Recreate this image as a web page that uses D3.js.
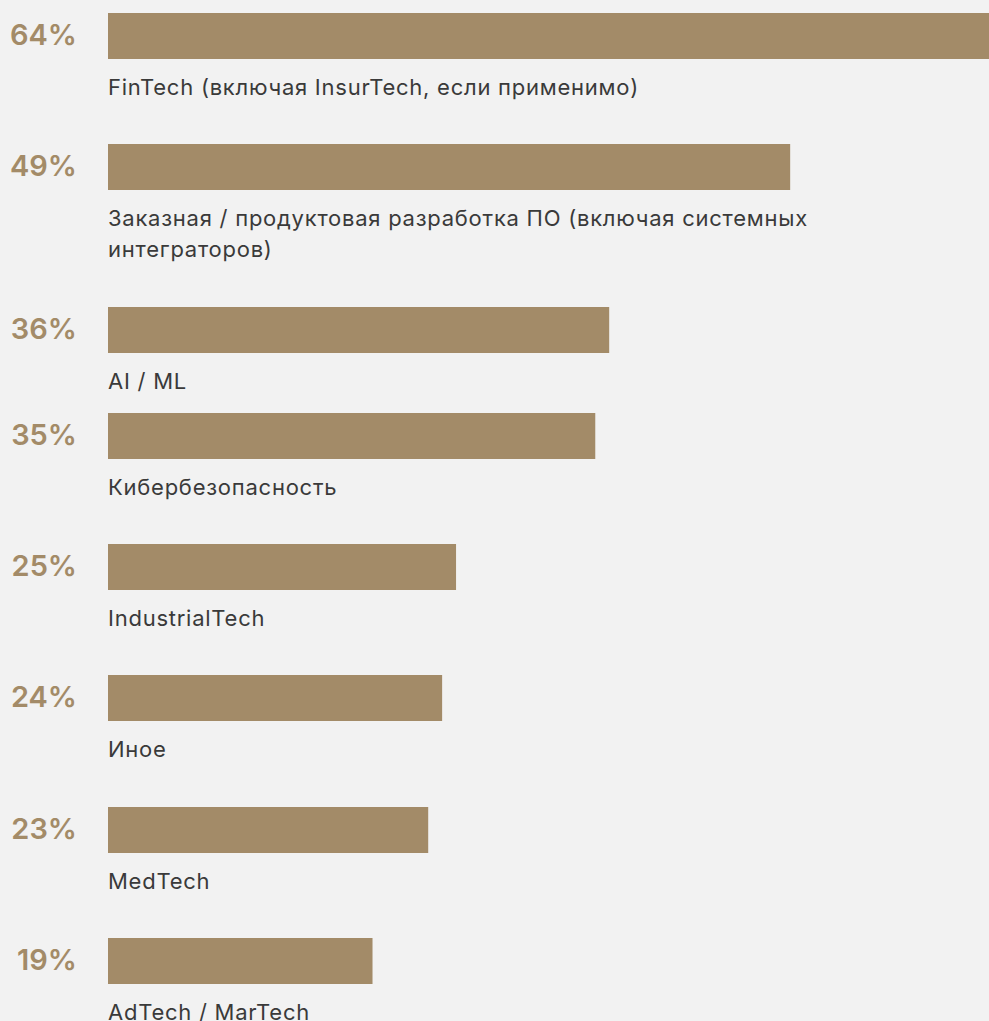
<!DOCTYPE html>
<html lang="ru">
<head>
<meta charset="utf-8">
<script src="https://cdn.jsdelivr.net/npm/d3@7"></script>
<style>
  html, body { margin: 0; padding: 0; background: #f2f2f2; overflow: hidden; }
  svg { display: block; }
</style>
</head>
<body>
<svg id="chart" width="989" height="1021"></svg>
<script>
// Share of respondents by segment, percent
const categories = [
  "FinTech (включая InsurTech, если применимо)",
  "Заказная / продуктовая разработка ПО (включая системных интеграторов)",
  "AI / ML",
  "Кибербезопасность",
  "IndustrialTech",
  "Иное",
  "MedTech",
  "AdTech / MarTech"
];
const values = [64, 49, 36, 35, 25, 24, 23, 19];
const valueLabels = ["64%", "49%", "36%", "35%", "25%", "24%", "23%", "19%"];

// Layout
const barX = 108, barH = 46, firstTop = 13;
const labelOffset = 36, lineH = 31;
const gapAfter = [49, 50, 24, 49, 49, 50, 49, 49];
const wrapWidth = 760;
const barColor = "#a38b68";
const textColor = "#3a3a3a";
const fontFamily = "Inter, 'Noto Sans', sans-serif";
const labelSize = 22, labelSpacing = 0.75;

const svg = d3.select("#chart");
const x = d3.scaleLinear().domain([0, 64]).range([0, 891]);

const measure = svg.append("text")
  .attr("font-family", fontFamily)
  .attr("font-size", labelSize)
  .attr("letter-spacing", labelSpacing)
  .attr("visibility", "hidden");

function wrap(str) {
  const words = str.split(" ");
  const lines = [];
  let cur = "";
  words.forEach(w => {
    const test = cur ? cur + " " + w : w;
    measure.text(test);
    if (cur && measure.node().getComputedTextLength() > wrapWidth) {
      lines.push(cur);
      cur = w;
    } else cur = test;
  });
  if (cur) lines.push(cur);
  return lines;
}

// row positions follow the flow of bar + wrapped label
let y = firstTop;
const rows = categories.map((c, i) => {
  const lines = wrap(c);
  const top = y;
  const lastBaseline = top + barH + labelOffset + (lines.length - 1) * lineH;
  y = lastBaseline + gapAfter[i];
  return { cat: c, value: values[i], label: valueLabels[i], lines, top };
});
measure.remove();

const g = svg.append("g");

g.selectAll("rect.bar")
  .data(rows)
  .join("rect")
  .attr("class", "bar")
  .attr("x", barX)
  .attr("y", d => d.top)
  .attr("width", d => x(d.value))
  .attr("height", barH)
  .attr("fill", barColor);

g.selectAll("text.pct")
  .data(rows)
  .join("text")
  .attr("class", "pct")
  .attr("x", 77)
  .attr("y", d => d.top + 31.5)
  .attr("text-anchor", "end")
  .attr("font-family", fontFamily)
  .attr("font-weight", 600)
  .attr("font-size", 29)
  .attr("fill", barColor)
  .text(d => d.label);

const cat = g.selectAll("text.cat")
  .data(rows)
  .join("text")
  .attr("class", "cat")
  .attr("font-family", fontFamily)
  .attr("font-size", labelSize)
  .attr("letter-spacing", labelSpacing)
  .attr("font-weight", 400)
  .attr("fill", textColor);

cat.selectAll("tspan")
  .data(d => d.lines.map((l, k) => ({ l, y: d.top + barH + labelOffset + k * lineH })))
  .join("tspan")
  .attr("x", barX)
  .attr("y", d => d.y)
  .text(d => d.l);
</script>
</body>
</html>
